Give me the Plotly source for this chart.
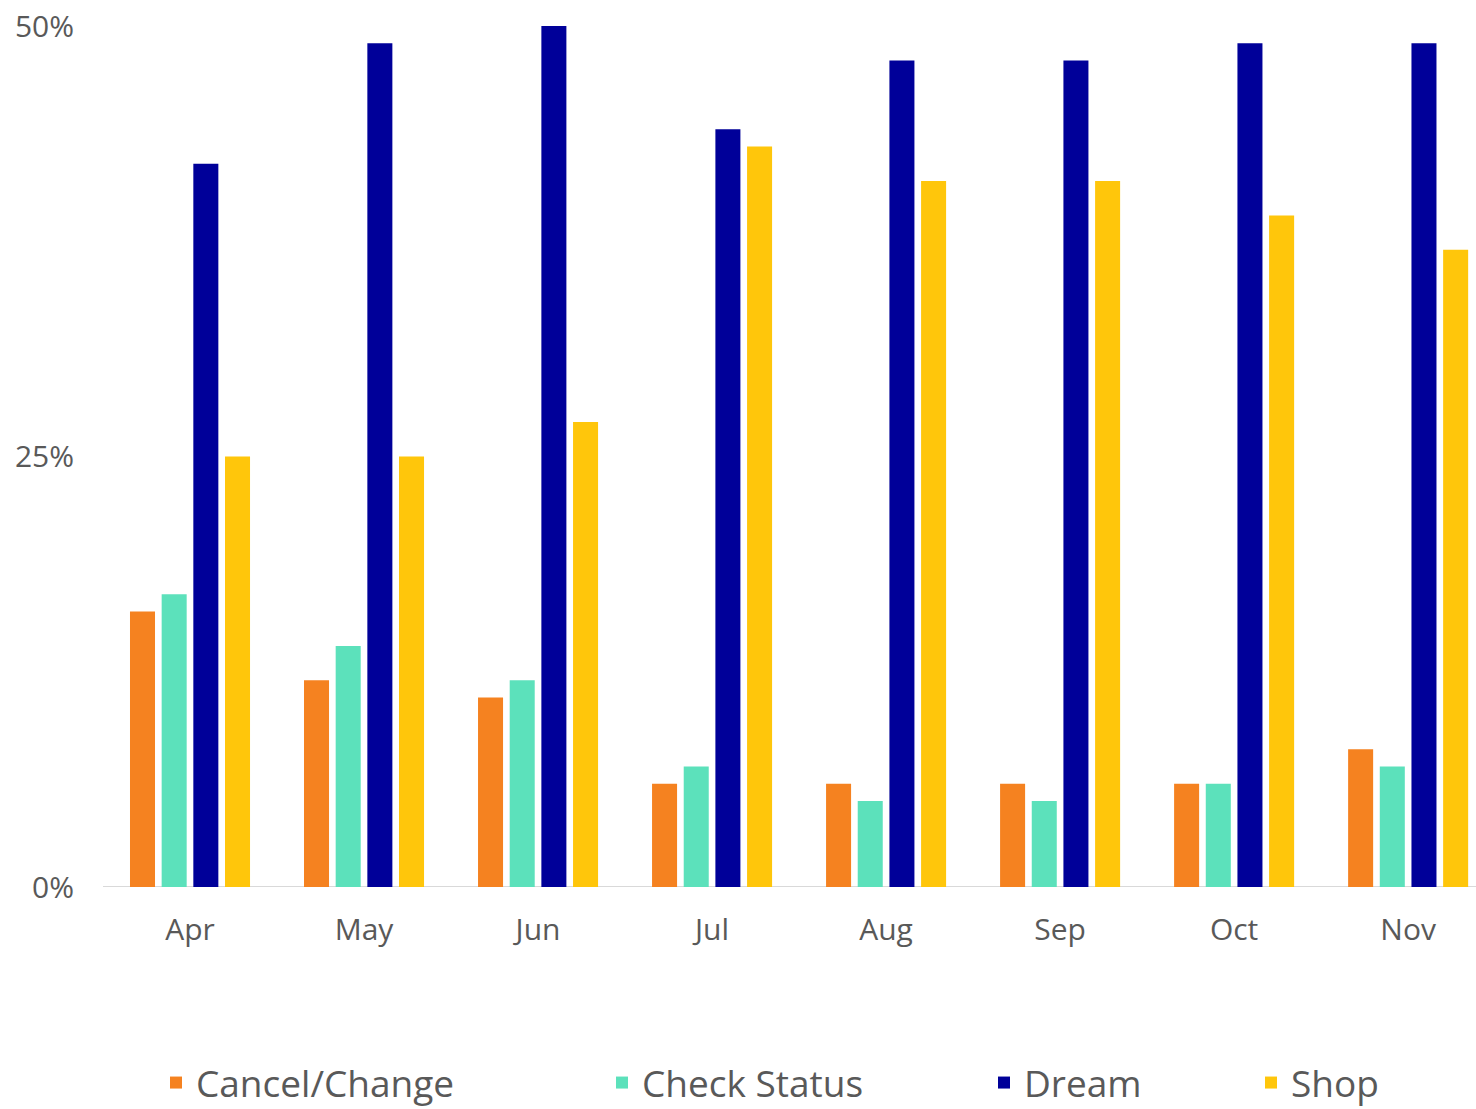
import plotly.graph_objects as go

months = ["Apr", "May", "Jun", "Jul", "Aug", "Sep", "Oct", "Nov"]
cancel_change = [16, 12, 11, 6, 6, 6, 6, 8]
check_status = [17, 14, 12, 7, 5, 5, 6, 7]
dream = [42, 49, 50, 44, 48, 48, 49, 49]
shop = [25, 25, 27, 43, 41, 41, 39, 37]

series_names = ["Cancel/Change", "Check Status", "Dream", "Shop"]
series_values = [cancel_change, check_status, dream, shop]
series_colors = ["#F58220", "#5CE1BB", "#000099", "#FFC60B"]

y_ticks = [0, 25, 50]
y_tick_labels = ["0%", "25%", "50%"]

W, H = 1476, 1109
FONT = "Open Sans, Lato, sans-serif"
TEXT = "#595959"

# left edge of each legend entry's text, in pixels
legend_text_x = [198, 644, 1026, 1293]

fig = go.Figure()
for i, (name, vals, col) in enumerate(zip(series_names, series_values, series_colors)):
    fig.add_trace(go.Bar(
        x=months, y=vals, name=name,
        marker=dict(color=col, line=dict(width=0)),
        legend="legend" if i == 0 else f"legend{i + 1}",
        showlegend=True,
    ))

# one single-entry legend per series so each entry can sit at its own x
layout_legends = {}
for i, tx in enumerate(legend_text_x):
    key = "legend" if i == 0 else f"legend{i + 1}"
    layout_legends[key] = dict(
        xref="container", yref="container",
        x=(tx - 42) / W, y=1 - 1083 / H,
        xanchor="left", yanchor="middle",
        orientation="h",
        font=dict(family=FONT, size=37, color=TEXT),
        bgcolor="rgba(0,0,0,0)",
        borderwidth=0,
    )

fig.update_layout(
    width=W, height=H,
    margin=dict(l=103, r=0, t=26, b=222),
    paper_bgcolor="white", plot_bgcolor="white",
    showlegend=True,
    barmode="group",
    bargap=0.272,
    bargroupgap=0.21,
    font=dict(family=FONT, color=TEXT),
    xaxis=dict(
        range=[-0.5, 7.39],
        showgrid=False, zeroline=False,
        showline=False, ticks="",
        tickfont=dict(family=FONT, size=30, color=TEXT),
        ticklabelstandoff=22,
    ),
    yaxis=dict(
        range=[0, 50],
        tickvals=y_ticks, ticktext=y_tick_labels,
        showgrid=False, zeroline=False, showline=False, ticks="",
        tickfont=dict(family=FONT, size=30, color=TEXT),
        ticklabelstandoff=28,
    ),
    shapes=[dict(
        type="line", xref="paper", yref="y",
        x0=0, x1=1, y0=0, y1=0,
        line=dict(color="#D9D9D9", width=2),
        layer="below",
    )],
    **layout_legends,
)

fig.write_html("out.html")
